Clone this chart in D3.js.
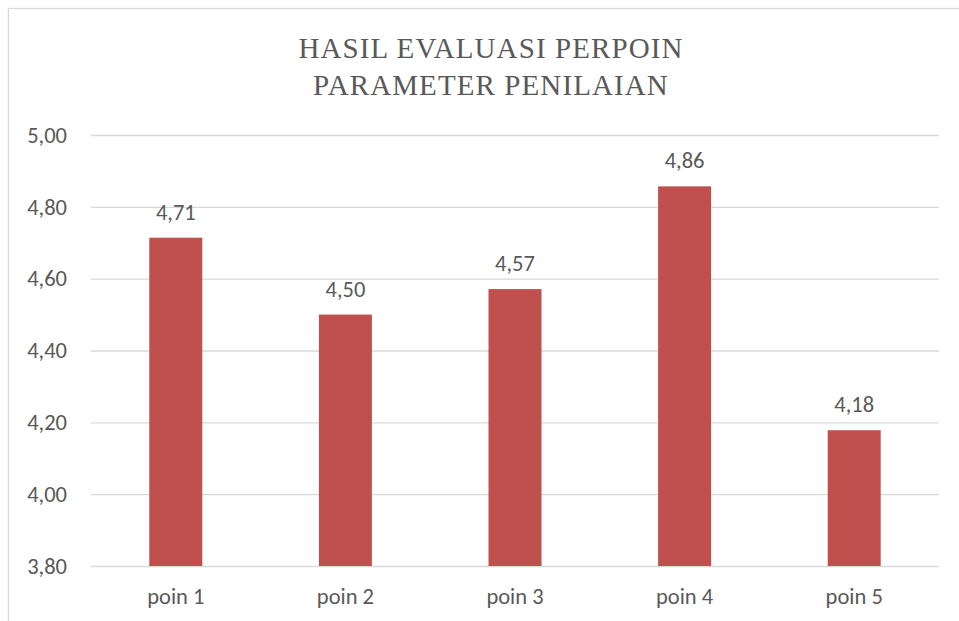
<!DOCTYPE html>
<html>
<head>
<meta charset="utf-8">
<style>
    body { margin: 0; background: #fff; }
    svg { display: block; }
</style>
<script src="https://cdn.jsdelivr.net/npm/d3@7"></script>
</head>
<body>
<svg id="chart" width="959" height="621"></svg>
<script>
    // data
    let categories = ["poin 1", "poin 2", "poin 3", "poin 4", "poin 5"]
    let scores = [4.714, 4.50, 4.571, 4.857, 4.178]
    let yTicks = [3.8, 4.0, 4.2, 4.4, 4.6, 4.8, 5.0]
    let titleLines = ["HASIL EVALUASI PERPOIN", "PARAMETER PENILAIAN"]

    let svg = d3.select("#chart")
    let textColor = "#595959"
    let labelFont = "Carlito, Calibri, 'Open Sans', sans-serif"
    let labelSize = 22.5

    // comma decimal like the original
    let locale = d3.formatLocale({ decimal: ",", thousands: ".", grouping: [3], currency: ["", ""] })
    let fmt = locale.format(".2f")

    // chart frame
    svg.append("rect")
        .attr("x", 8.5).attr("y", 8.5)
        .attr("width", 1000).attr("height", 700)
        .attr("fill", "#fff")
        .attr("stroke", "#d9d9d9")
        .attr("stroke-width", 1.3)

    let plot = { left: 91, right: 939, top: 135, bottom: 566 }

    let x = d3.scaleBand()
        .domain(categories)
        .range([plot.left, plot.right])
        .paddingInner(0.6875)
        .paddingOuter(0.34375)

    let y = d3.scaleLinear()
        .domain([3.8, 5.0])
        .range([plot.bottom, plot.top])

    // title
    svg.append("text")
        .attr("x", 491).attr("y", 58)
        .attr("text-anchor", "middle")
        .attr("font-family", "'Liberation Serif', 'Times New Roman', serif")
        .attr("font-size", 29)
        .attr("letter-spacing", 1.1)
        .attr("fill", textColor)
        .selectAll("tspan")
        .data(titleLines)
        .enter().append("tspan")
        .attr("x", 491)
        .attr("dy", (d, i) => i == 0 ? 0 : 37)
        .text(d => d)

    // gridlines + y labels
    let yAxis = d3.axisLeft(y)
        .tickValues(yTicks)
        .tickSize(-(plot.right - plot.left))
        .tickPadding(24)
        .tickFormat(fmt)

    svg.append("g")
        .attr("transform", `translate(${plot.left},0)`)
        .call(yAxis)
        .call(g => g.select(".domain").remove())
        .call(g => g.selectAll("line").attr("stroke", "#d9d9d9").attr("stroke-width", 1.3))
        .call(g => g.selectAll("text")
            .attr("font-family", labelFont)
            .attr("font-size", labelSize)
            .attr("fill", textColor))

    // category labels
    let xAxis = d3.axisBottom(x).tickSize(0).tickPadding(22)
    svg.append("g")
        .attr("transform", `translate(0,${plot.bottom})`)
        .call(xAxis)
        .call(g => g.select(".domain").remove())
        .call(g => g.selectAll("text")
            .attr("font-family", labelFont)
            .attr("font-size", labelSize)
            .attr("fill", textColor))

    // bars
    svg.selectAll("rect.bar")
        .data(scores)
        .enter().append("rect")
        .attr("class", "bar")
        .attr("x", (d, i) => x(categories[i]))
        .attr("width", x.bandwidth())
        .attr("y", d => y(d))
        .attr("height", d => y(3.8) - y(d))
        .attr("fill", "#c0504d")

    // value labels
    svg.selectAll("text.val")
        .data(scores)
        .enter().append("text")
        .attr("class", "val")
        .attr("x", (d, i) => x(categories[i]) + x.bandwidth() / 2)
        .attr("y", d => y(d) - 18)
        .attr("text-anchor", "middle")
        .attr("font-family", labelFont)
        .attr("font-size", labelSize)
        .attr("fill", textColor)
        .text(d => fmt(d))
</script>
</body>
</html>
